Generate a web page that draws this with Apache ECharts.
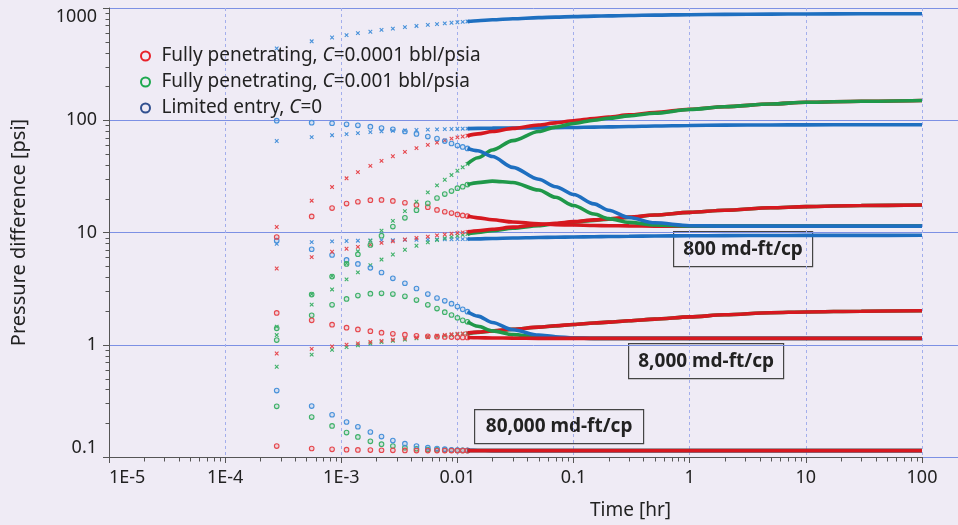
<!DOCTYPE html>
<html>
<head>
<meta charset="utf-8">
<script src="https://cdn.jsdelivr.net/npm/echarts@6/dist/echarts.min.js"></script>
<style>
  html, body { margin: 0; padding: 0; background: #EFEBF5; }
  #chart { width: 958px; height: 525px; }
</style>
</head>
<body>
<div id="chart"></div>
<script>
// sample times [hr]: single markers early, dense (drawn as a line) later
const tEarly = [0.000278, 0.000556, 0.000833, 0.00111, 0.00139, 0.00178, 0.00222, 0.00278, 0.00353,
  0.00444, 0.00556, 0.00667, 0.00778, 0.00889, 0.0100, 0.0111, 0.0122];
const tLate = [0.0122, 0.015, 0.02, 0.03, 0.05, 0.07, 0.1, 0.15, 0.2, 0.3, 0.5, 1, 2, 5, 10, 30, 100];

// 800 md-ft/cp  (x = pressure, o = derivative)
const red800xE = [11.2, 19.2, 25.4, 30.4, 34.5, 39.2, 43.5, 47.8, 52.3, 56.5, 60.3, 63.3, 66.2, 68.6, 70.4, 71.7, 72.8];
const red800xL = [72.8, 75.6, 79.4, 84.6, 90.8, 94.8, 99.0, 103.7, 107.0, 111.6, 117.4, 125.3, 132, 139.5, 144.5, 147.5, 150];
const red800oE = [9.12, 13.9, 16.5, 18.1, 18.8, 19.4, 19.5, 19.1, 18.4, 17.6, 16.8, 15.9, 15.3, 14.9, 14.5, 14.2, 14.0];
const red800oL = [14.0, 13.5, 13.0, 12.4, 11.95, 11.75, 11.65, 11.55, 11.5, 11.45, 11.4, 11.4, 11.4, 11.4, 11.4, 11.4, 11.4];
const green800xE = [1.45, 2.83, 4.10, 5.32, 6.80, 8.46, 10.4, 12.7, 15.5, 18.8, 22.8, 26.3, 29.5, 32.5, 35.5, 38.1, 40.8];
const green800xL = [40.8, 46.3, 54.4, 65.9, 79.3, 86.8, 93.6, 100.1, 104.1, 109.3, 115.4, 124.5, 132, 139.5, 144.5, 147.5, 150];
const green800oE = [1.40, 2.80, 4.05, 5.25, 6.40, 7.74, 9.37, 11.3, 13.5, 15.8, 18.2, 20.3, 22.0, 23.4, 24.8, 25.6, 26.7];
const green800oL = [26.7, 27.8, 28.7, 27.9, 23.9, 20.6, 17.4, 14.6, 13.3, 12.3, 11.7, 11.45, 11.4, 11.4, 11.4, 11.4, 11.4];
const blue800xE = [437, 505, 546, 573, 598, 614, 638, 655, 675, 692, 707, 719, 730, 739, 747, 753, 759];
const blue800xL = [759, 771, 786, 803, 820, 829, 838, 846, 851, 857, 864, 872, 877, 882, 885, 888, 890];
const blue800oE = [99.1, 95.1, 94.0, 92.0, 90.2, 87.6, 85.3, 83.1, 79.4, 75.6, 71.6, 68.8, 65.3, 62.1, 59.6, 57.8, 56.1];
const blue800oL = [56.1, 53.5, 47.5, 38.0, 29.8, 25.6, 21.8, 18.0, 15.8, 13.6, 12.2, 11.5, 11.4, 11.4, 11.4, 11.4, 11.4];

// 8,000 md-ft/cp
const red8000xE = [4.78, 6.03, 6.74, 7.17, 7.45, 7.79, 8.08, 8.36, 8.66, 8.94, 9.20, 9.42, 9.60, 9.76, 9.90, 10.02, 10.13];
const red8000xL = [10.13, 10.37, 10.7, 11.16, 11.74, 12.1, 12.5, 12.95, 13.25, 13.7, 14.3, 15.1, 15.8, 16.6, 17.0, 17.4, 17.6];
const red8000oE = [1.92, 1.65, 1.51, 1.42, 1.37, 1.32, 1.28, 1.25, 1.23, 1.20, 1.19, 1.18, 1.175, 1.17, 1.165, 1.16, 1.16];
const red8000oL = [1.16, 1.155, 1.15, 1.145, 1.14, 1.14, 1.14, 1.14, 1.14, 1.14, 1.14, 1.14, 1.14, 1.14, 1.14, 1.14, 1.14];
const green8000xE = [1.22, 2.28, 3.11, 3.82, 4.41, 5.11, 5.74, 6.37, 7.02, 7.62, 8.16, 8.57, 8.88, 9.14, 9.36, 9.53, 9.68];
const green8000xL = [9.68, 10.0, 10.4, 10.9, 11.5, 11.95, 12.35, 12.8, 13.15, 13.65, 14.3, 15.1, 15.8, 16.6, 17.0, 17.4, 17.6];
const green8000oE = [1.10, 1.83, 2.27, 2.56, 2.74, 2.85, 2.87, 2.83, 2.70, 2.50, 2.27, 2.10, 1.95, 1.84, 1.74, 1.65, 1.60];
const green8000oL = [1.60, 1.46, 1.33, 1.23, 1.17, 1.155, 1.145, 1.14, 1.14, 1.14, 1.14, 1.14, 1.14, 1.14, 1.14, 1.14, 1.14];
const blue8000xE = [65.3, 70.8, 73.6, 75.3, 76.7, 78.3, 79.5, 80.5, 81.3, 81.9, 82.5, 82.9, 83.3, 83.6, 83.9, 84.1, 84.3];
const blue8000xL = [84.3, 84.6, 85.0, 85.3, 85.6, 85.9, 86.3, 86.9, 87.3, 88.0, 88.9, 89.9, 90.4, 90.8, 91.0, 91.2, 91.3];
const blue8000oE = [8.46, 7.09, 6.30, 5.70, 5.25, 4.85, 4.40, 3.91, 3.53, 3.17, 2.83, 2.61, 2.46, 2.32, 2.19, 2.07, 1.97];
const blue8000oL = [1.97, 1.80, 1.58, 1.36, 1.22, 1.18, 1.15, 1.14, 1.14, 1.14, 1.14, 1.14, 1.14, 1.14, 1.14, 1.14, 1.14];

// 80,000 md-ft/cp
const red80000xE = [0.836, 0.920, 0.968, 1.002, 1.028, 1.057, 1.082, 1.107, 1.135, 1.161, 1.186, 1.207, 1.225, 1.239, 1.253, 1.263, 1.272];
const red80000xL = [1.272, 1.296, 1.33, 1.375, 1.435, 1.475, 1.515, 1.56, 1.59, 1.635, 1.69, 1.77, 1.85, 1.93, 1.96, 1.99, 2.01];
const red80000oE = [0.125, 0.119, 0.117, 0.1163, 0.1157, 0.1152, 0.1149, 0.1146, 0.1144, 0.1142, 0.114, 0.114, 0.114, 0.114, 0.114, 0.114, 0.114];
const red80000oL = [0.114, 0.114, 0.114, 0.114, 0.114, 0.114, 0.114, 0.114, 0.114, 0.114, 0.114, 0.114, 0.114, 0.114, 0.114, 0.114, 0.114];
const green80000xE = [0.637, 0.816, 0.901, 0.953, 0.989, 1.025, 1.055, 1.083, 1.112, 1.140, 1.166, 1.187, 1.205, 1.220, 1.234, 1.248, 1.260];
const green80000xL = [1.26, 1.29, 1.325, 1.372, 1.433, 1.474, 1.515, 1.56, 1.59, 1.635, 1.69, 1.77, 1.85, 1.93, 1.96, 1.99, 2.01];
const green80000oE = [0.283, 0.227, 0.189, 0.165, 0.151, 0.138, 0.130, 0.125, 0.121, 0.1184, 0.1166, 0.116, 0.1154, 0.1149, 0.1145, 0.1144, 0.1143];
const green80000oL = [0.1143, 0.1142, 0.114, 0.114, 0.114, 0.114, 0.114, 0.114, 0.114, 0.114, 0.114, 0.114, 0.114, 0.114, 0.114, 0.114, 0.114];
const blue80000xE = [7.94, 8.20, 8.33, 8.40, 8.45, 8.49, 8.53, 8.56, 8.59, 8.62, 8.65, 8.67, 8.69, 8.71, 8.72, 8.73, 8.74];
const blue80000xL = [8.74, 8.78, 8.85, 8.93, 9.02, 9.07, 9.12, 9.17, 9.20, 9.25, 9.30, 9.35, 9.38, 9.41, 9.42, 9.43, 9.44];
const blue80000oE = [0.391, 0.284, 0.238, 0.205, 0.186, 0.167, 0.152, 0.140, 0.1315, 0.125, 0.121, 0.119, 0.1175, 0.116, 0.115, 0.1148, 0.1146];
const blue80000oL = [0.1146, 0.1144, 0.114, 0.114, 0.114, 0.114, 0.114, 0.114, 0.114, 0.114, 0.114, 0.114, 0.114, 0.114, 0.114, 0.114, 0.114];

const xTickLabels = ['1E-5', '1E-4', '1E-3', '0.01', '0.1', '1', '10', '100'];
const yTickLabels = ['0.1', '1', '10', '100', '1000'];
const seriesNames = ['Fully penetrating, C=0.0001 bbl/psia', 'Fully penetrating, C=0.001 bbl/psia', 'Limited entry, C=0'];
const boxLabels = ['800 md-ft/cp', '8,000 md-ft/cp', '80,000 md-ft/cp'];

const FONT = 'Noto Sans';
const BG = '#EFEBF5';
const COLORS = {
  red: { mark: '#E6474D', line: '#D6181F', fill: 'rgba(230,71,77,0.15)', legend: '#E8212A', name: seriesNames[0] },
  green: { mark: '#3FB169', line: '#1F9849', fill: 'rgba(63,177,105,0.15)', legend: '#1DA94F', name: seriesNames[1] },
  blue: { mark: '#4791DA', line: '#1E6FC0', fill: 'rgba(71,145,218,0.15)', legend: '#31508F', name: seriesNames[2] }
};
const X_MARK = 'path://M0,0L10,10M10,0L0,10';

// drawing order matters where curves lie on top of each other
const curves = [
  ['green', 'x', green80000xE, green80000xL], ['green', 'o', green80000oE, green80000oL],
  ['blue', 'x', blue80000xE, blue80000xL], ['blue', 'o', blue80000oE, blue80000oL],
  ['red', 'x', red80000xE, red80000xL], ['red', 'o', red80000oE, red80000oL],
  ['green', 'x', green8000xE, green8000xL], ['green', 'o', green8000oE, green8000oL],
  ['blue', 'x', blue8000xE, blue8000xL], ['blue', 'o', blue8000oE, blue8000oL],
  ['red', 'x', red8000xE, red8000xL], ['red', 'o', red8000oE, red8000oL],
  ['red', 'x', red800xE, red800xL], ['red', 'o', red800oE, red800oL],
  ['green', 'x', green800xE, green800xL], ['green', 'o', green800oE, green800oL],
  ['blue', 'x', blue800xE, blue800xL], ['blue', 'o', blue800oE, blue800oL]
];

function pairs(t, v) {
  return t.map(function (x, i) { return [x, v[i]]; });
}

const series = [];
curves.forEach(function (c) {
  const col = COLORS[c[0]];
  const isO = c[1] === 'o';
  series.push({
    type: 'scatter', name: col.name, data: pairs(tEarly, c[2]), silent: true,
    symbol: isO ? 'circle' : X_MARK, symbolSize: isO ? 4.6 : 3.6,
    itemStyle: { color: isO ? col.fill : 'none', borderColor: col.mark, borderWidth: 1.1, opacity: 1 }
  });
  series.push({
    type: 'line', name: col.name, data: pairs(tLate, c[3]), silent: true,
    showSymbol: false, smooth: 0.3, smoothMonotone: 'x',
    lineStyle: { color: col.line, width: 3.6 }, itemStyle: { color: col.line }
  });
});

// minor log ticks (2..9 in every decade)
const xMinor = [], yMinor = [];
for (let e = -5; e < 2; e++) for (let k = 2; k < 10; k++) xMinor.push(k * Math.pow(10, e));
for (let e = -1; e < 3; e++) for (let k = 2; k < 10; k++) yMinor.push(k * Math.pow(10, e));

function tickSeries(values, dir) {
  return {
    type: 'custom', silent: true, clip: false, z: 5,
    data: values.map(function (v) { return dir === 'x' ? [v, 0.1] : [1e-5, v]; }),
    renderItem: function (params, api) {
      const p = api.coord([api.value(0), api.value(1)]);
      const x = Math.round(p[0]) + 0.5, y = Math.round(p[1]) + 0.5;
      const shape = dir === 'x'
        ? { x1: x, y1: y, x2: x, y2: y + 4 }
        : { x1: x - 4, y1: y, x2: x, y2: y };
      return { type: 'line', shape: shape, style: { stroke: '#555', lineWidth: 1 } };
    }
  };
}
series.push(tickSeries(xMinor, 'x'));
series.push(tickSeries(yMinor, 'y'));

const boxes = [
  { text: boxLabels[0], left: 673, top: 231, w: 139, h: 35 },
  { text: boxLabels[1], left: 628, top: 343, w: 155, h: 35 },
  { text: boxLabels[2], left: 474, top: 409, w: 169, h: 34 }
];

const chart = echarts.init(document.getElementById('chart'), null, { renderer: 'canvas' });

chart.setOption({
  backgroundColor: BG,
  animation: false,
  textStyle: { fontFamily: FONT },
  grid: [
    { left: 109, right: 36, top: 8, bottom: 68 },
    { left: 109, right: 0, top: 8, bottom: 68 }
  ],
  legend: {
    orient: 'vertical', left: 135, top: 41,
    itemWidth: 22, itemHeight: 9, itemGap: 6,
    icon: 'circle', selectedMode: false,
    data: seriesNames.map(function (n, i) {
      const col = COLORS[['red', 'green', 'blue'][i]];
      return { name: n, itemStyle: { color: 'rgba(0,0,0,0)', borderColor: col.legend, borderWidth: 2 } };
    }),
    formatter: function (n) { return n.replace('C=', '{i|C}='); },
    textStyle: {
      fontFamily: FONT, fontSize: 19, color: '#222', lineHeight: 20,
      rich: { i: { fontFamily: FONT, fontSize: 19, fontStyle: 'italic', color: '#222', lineHeight: 20 } }
    }
  },
  xAxis: [
    {
      type: 'log', logBase: 10, min: 1e-5, max: 100, gridIndex: 0,
      name: 'Time [hr]', nameLocation: 'middle', nameGap: 44,
      nameTextStyle: { fontFamily: FONT, fontSize: 19, color: '#222', padding: [0, 0, 0, 230] },
      axisLine: { lineStyle: { color: '#555', width: 1 } },
      axisTick: { length: 6, lineStyle: { color: '#555' } },
      axisLabel: {
        fontFamily: FONT, fontSize: 18, color: '#222', margin: 12, alignMinLabel: 'left',
        formatter: function (v) { return xTickLabels[Math.round(Math.log10(v)) + 5]; }
      },
      splitLine: { show: true, lineStyle: { color: '#A3AEEC', type: [3, 3], width: 1 } }
    },
    { type: 'value', gridIndex: 1, min: 0, max: 1, show: false }
  ],
  yAxis: [
    {
      type: 'log', logBase: 10, min: 0.1, max: 1000, gridIndex: 0,
      name: 'Pressure difference [psi]', nameLocation: 'middle', nameGap: 80, nameRotate: 90,
      nameTextStyle: { fontFamily: FONT, fontSize: 20, color: '#222' },
      axisLine: { show: true, lineStyle: { color: '#555', width: 1 } },
      axisTick: { length: 6, lineStyle: { color: '#555' } },
      axisLabel: {
        fontFamily: FONT, fontSize: 18, color: '#222', margin: 12,
        verticalAlignMaxLabel: 'top', verticalAlignMinLabel: 'bottom',
        formatter: function (v) { return yTickLabels[Math.round(Math.log10(v)) + 1]; }
      },
      splitLine: { show: false }
    },
    {
      type: 'log', logBase: 10, min: 0.1, max: 1000, gridIndex: 1,
      axisLine: { show: false }, axisTick: { show: false }, axisLabel: { show: false },
      splitLine: { show: true, lineStyle: { color: '#7C90E4', width: 1 } }
    }
  ],
  graphic: boxes.map(function (b) {
    return {
      type: 'group', left: b.left, top: b.top, z: 100,
      children: [
        { type: 'rect', shape: { x: 0, y: 0, width: b.w, height: b.h },
          style: { fill: BG, stroke: '#444', lineWidth: 1.2 } },
        { type: 'text', x: b.w / 2, y: b.h / 2,
          style: { text: b.text, fill: '#222', align: 'center', verticalAlign: 'middle',
                   font: 'bold 19px "' + FONT + '"' } }
      ]
    };
  }),
  series: series
});
</script>
</body>
</html>
